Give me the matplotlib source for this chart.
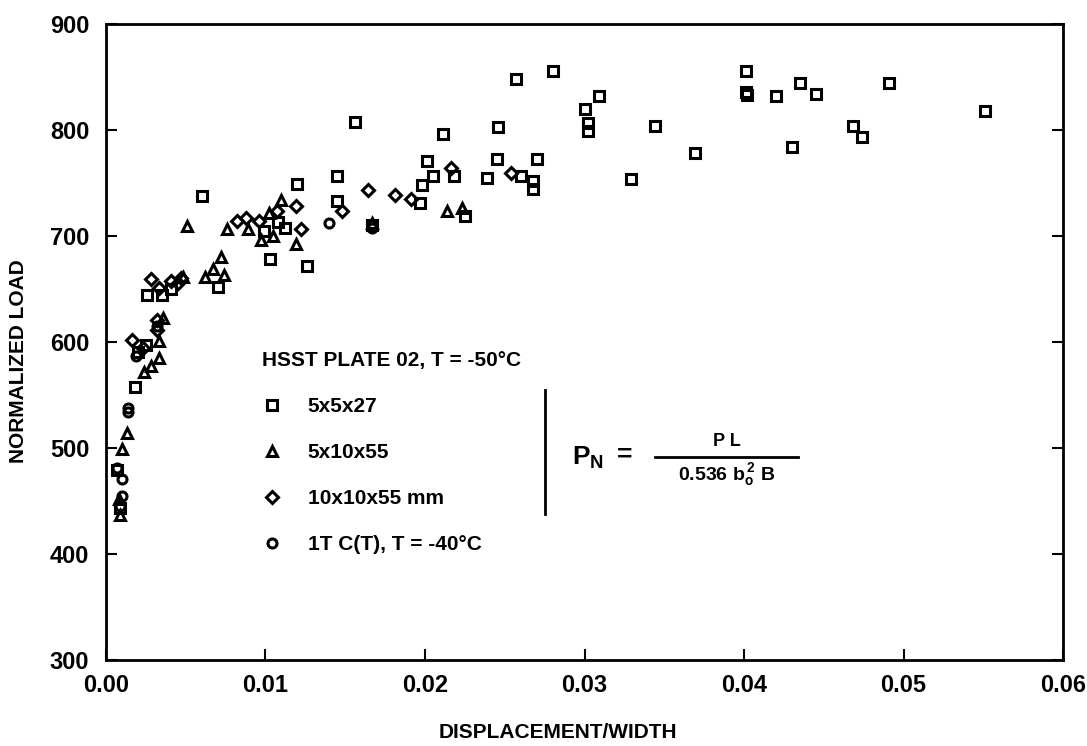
import matplotlib
matplotlib.use("Agg")
import matplotlib.pyplot as plt
from matplotlib.lines import Line2D

plt.rcParams['font.family'] = ['Liberation Sans', 'DejaVu Sans']
plt.rcParams['mathtext.fontset'] = 'custom'
plt.rcParams['mathtext.rm'] = 'Liberation Sans:bold'
plt.rcParams['mathtext.it'] = 'Liberation Sans:bold'
plt.rcParams['mathtext.bf'] = 'Liberation Sans:bold'

# 5x5x27 specimens
sq_x = [0.0060, 0.0070, 0.0099, 0.0103, 0.0108, 0.0112, 0.0120, 0.0126, 0.0145, 0.0145,
        0.0156, 0.0167, 0.0197, 0.0198, 0.0201, 0.0205, 0.0211, 0.0218, 0.0225, 0.0239,
        0.0245, 0.0246, 0.0257, 0.0260, 0.0268, 0.0268, 0.0270, 0.0280, 0.0300, 0.0302,
        0.0302, 0.0309, 0.0329, 0.0344, 0.0369, 0.0401, 0.0401, 0.0402, 0.0420, 0.0430,
        0.0435, 0.0445, 0.0468, 0.0474, 0.0491, 0.0551,
        0.0026, 0.0035, 0.0041, 0.0018, 0.0007, 0.0009, 0.0020, 0.0025]
sq_y = [738, 652, 705, 678, 713, 708, 749, 672, 757, 733,
        808, 710, 731, 748, 771, 757, 796, 757, 719, 755,
        773, 803, 848, 757, 752, 744, 773, 856, 820, 807,
        799, 832, 754, 804, 778, 856, 836, 833, 832, 784,
        844, 834, 804, 793, 844, 818,
        644, 644, 650, 558, 479, 443, 591, 597]

# 5x10x55 specimens
tri_x = [0.0051, 0.0076, 0.0089, 0.0097, 0.0105, 0.0110, 0.0119, 0.0072, 0.0062, 0.0067,
         0.0074, 0.0048, 0.0036, 0.0033, 0.0033, 0.0028, 0.0024, 0.0013, 0.0010, 0.0008,
         0.0009, 0.0214, 0.0223, 0.0167, 0.0102]
tri_y = [709, 707, 707, 696, 700, 734, 692, 680, 661, 669,
         663, 661, 623, 601, 585, 577, 572, 514, 499, 452,
         437, 724, 726, 712, 722]

# 10x10x55 mm specimens
dia_x = [0.0082, 0.0088, 0.0096, 0.0107, 0.0119, 0.0122, 0.0047, 0.0041, 0.0028, 0.0033,
         0.0045, 0.0032, 0.0032, 0.0016, 0.0023, 0.0148, 0.0164, 0.0181, 0.0191, 0.0216,
         0.0254]
dia_y = [714, 717, 714, 724, 728, 707, 660, 658, 659, 651,
         656, 621, 611, 602, 594, 724, 743, 739, 735, 764,
         759]

# 1T C(T), T = -40 C
cir_x = [0.0140, 0.0167, 0.0014, 0.0014, 0.0019, 0.0010, 0.0007, 0.0009, 0.0032, 0.0010]
cir_y = [712, 708, 538, 534, 587, 471, 481, 445, 615, 455]

fig = plt.figure(figsize=(10.87, 7.46), dpi=100)
ax = fig.add_axes([0.0975, 0.1153, 0.8805, 0.8525])

mk = dict(linestyle='none', markerfacecolor='none', markeredgecolor='black',
          markeredgewidth=2.2, color='black')
h1, = ax.plot(sq_x, sq_y, marker='s', markersize=7.5, label='5x5x27', **mk)
h2, = ax.plot(tri_x, tri_y, marker='^', markersize=6.5, label='5x10x55', **mk)
h3, = ax.plot(dia_x, dia_y, marker='D', markersize=6.5, label='10x10x55 mm', **mk)
h4, = ax.plot(cir_x, cir_y, marker='o', markersize=6.5, label='1T C(T), T = -40°C', **mk)

ax.set_xlim(0, 0.06)
ax.set_ylim(300, 900)
ax.set_xticks([0.00, 0.01, 0.02, 0.03, 0.04, 0.05, 0.06])
ax.set_xticklabels(['0.00', '0.01', '0.02', '0.03', '0.04', '0.05', '0.06'])
ax.set_yticks([300, 400, 500, 600, 700, 800, 900])
ax.tick_params(direction='in', length=8, width=1.5, labelsize=17)
ax.tick_params(axis='x', pad=10)
ax.tick_params(axis='y', right=True, pad=12)
for lab in ax.get_xticklabels() + ax.get_yticklabels():
    lab.set_fontweight('bold')
for s in ax.spines.values():
    s.set_linewidth(2.0)

ax.set_xlabel('DISPLACEMENT/WIDTH', fontsize=15, fontweight='bold')
ax.xaxis.set_label_coords(0.472, -0.099)
ax.set_ylabel('NORMALIZED LOAD', fontsize=15, fontweight='bold')
ax.yaxis.set_label_coords(-0.082, 0.47)

leg = ax.legend(handles=[h1, h2, h3, h4], title='HSST PLATE 02, T = -50°C',
                loc='upper left', bbox_to_anchor=(262 / 1087, 1 - 351 / 746),
                bbox_transform=fig.transFigure, frameon=False,
                prop={'size': 15, 'weight': 'bold'},
                title_fontproperties={'size': 15, 'weight': 'bold'},
                handlelength=1.0, handletextpad=1.2, labelspacing=1.3,
                borderpad=0, borderaxespad=0, alignment='left')

# formula block
fig.add_artist(Line2D([545 / 1087, 545 / 1087], [1 - 390 / 746, 1 - 514 / 746],
                      transform=fig.transFigure, color='black', lw=2))
fig.text(572 / 1087, 1 - 458 / 746, r'$\mathrm{P_N}$', fontsize=19,
         va='center', ha='left')
fig.text(625 / 1087, 1 - 455 / 746, '=', fontsize=19, fontweight='bold',
         va='center', ha='center')
fig.add_artist(Line2D([655 / 1087, 798 / 1087], [1 - 457 / 746, 1 - 457 / 746],
                      transform=fig.transFigure, color='black', lw=2))
fig.text(727 / 1087, 1 - 442 / 746, 'P L', fontsize=13, fontweight='bold',
         va='center', ha='center')
fig.text(727 / 1087, 1 - 475 / 746, r'$\mathrm{0.536\ b_o^{\,2}\ B}$', fontsize=14,
         va='center', ha='center')

fig.savefig('out.png', dpi=100)
